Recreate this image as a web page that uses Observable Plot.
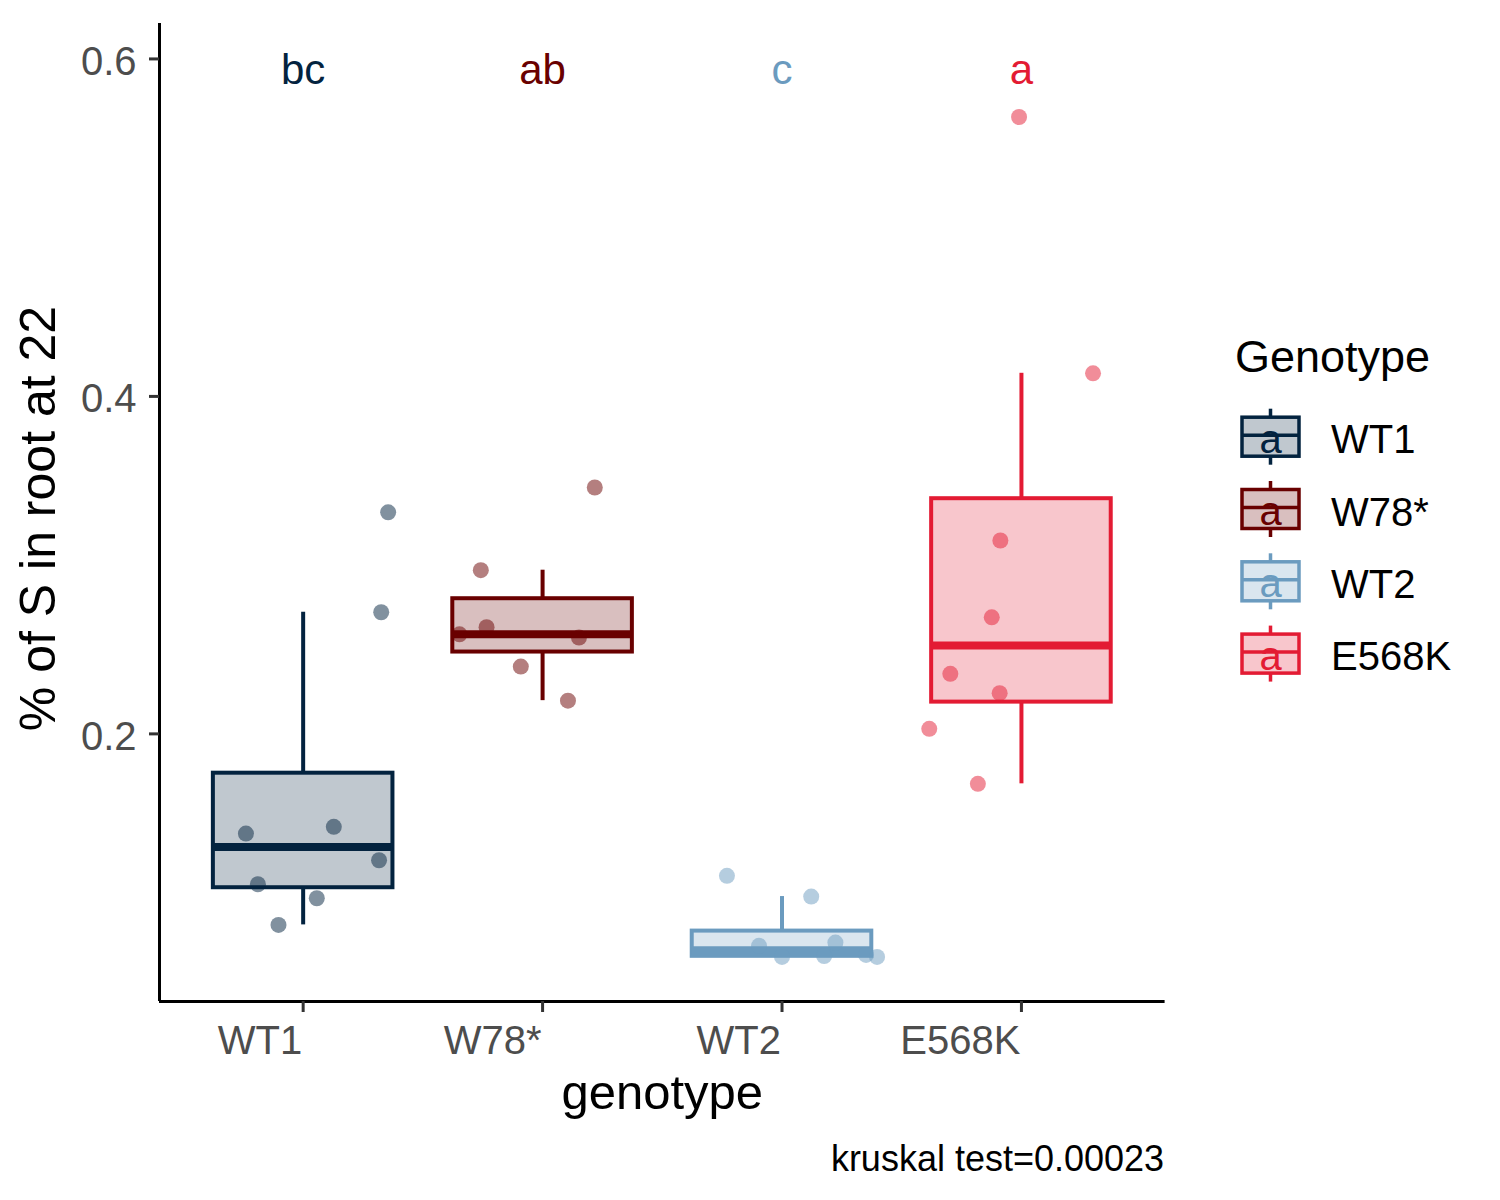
<!DOCTYPE html>
<html><head><meta charset="utf-8">
<script src="https://cdn.jsdelivr.net/npm/d3@7"></script>
<script src="https://cdn.jsdelivr.net/npm/@observablehq/plot@0.6"></script>
<style>body{margin:0;background:#fff} #chart{width:1500px;height:1200px}</style>
</head><body><div id="chart"></div>
<script>
// ---- data ----
const genotypes = ["WT1", "W78*", "WT2", "E568K"];
const lineColors = ["#03233F", "#690000", "#6B9BBF", "#E31B33"];
const sigLetters = ["bc", "ab", "c", "a"];
const labelY = 0.594;
const valuesWT1   = [0.3313, 0.2721, 0.1409, 0.1449, 0.1251, 0.1109, 0.1026, 0.0868];
const valuesW78   = [0.3460, 0.2970, 0.2632, 0.2590, 0.2571, 0.2399, 0.2197];
const valuesWT2   = [0.1159, 0.1036, 0.0744, 0.0763, 0.0678, 0.0683, 0.0690, 0.0678];
const valuesE568K = [0.4137, 0.3146, 0.2691, 0.2356, 0.2241, 0.2030, 0.1704, 0.5656];
// horizontal jitter (in category units)
const jitterWT1   = [0.355, 0.326, -0.239, 0.128, 0.317, -0.189, 0.057, -0.103];
const jitterW78   = [0.218, -0.258, -0.234, -0.347, 0.152, -0.091, 0.106];
const jitterWT2   = [-0.230, 0.122, -0.096, 0.223, 0.000, 0.176, 0.351, 0.397];
const jitterE568K = [0.299, -0.088, -0.124, -0.297, -0.091, -0.385, -0.182, -0.010];
const yTicks = [0.2, 0.4, 0.6];
const yDomain = [0.0414, 0.621];
const xTitle = "genotype";
const yTitle = "% of S in root at 22";
const legendTitle = "Genotype";
const caption = "kruskal test=0.00023";

// ---- derived ----
const groups = [valuesWT1, valuesW78, valuesWT2, valuesE568K];
const jitters = [jitterWT1, jitterW78, jitterWT2, jitterE568K];
const points = groups.flatMap((vals, g) => vals.map((v, j) => ({genotype: genotypes[g], pos: g + 1 + jitters[g][j], value: v})));
const stats = groups.map((vals, g) => {
  const s = d3.sort(vals);
  const q1 = d3.quantileSorted(s, 0.25), med = d3.quantileSorted(s, 0.5), q3 = d3.quantileSorted(s, 0.75);
  const iqr = q3 - q1;
  const hi = d3.max(s.filter(v => v <= q3 + 1.5 * iqr));
  const lo = d3.min(s.filter(v => v >= q1 - 1.5 * iqr));
  return {genotype: genotypes[g], pos: g + 1, q1, med, q3, hi, lo, letter: sigLetters[g]};
});
const halfW = 0.375;
const font = "Liberation Sans, Arial, Helvetica, sans-serif";

const svg = Plot.plot({
  width: 1500, height: 1200,
  marginLeft: 159, marginRight: 335.4, marginTop: 23, marginBottom: 199,
  style: {fontFamily: font, background: "#fff", overflow: "visible"},
  x: {type: "linear", domain: [0.4, 4.6]},
  y: {domain: yDomain},
  color: {domain: genotypes, range: lineColors},
  marks: [
    Plot.ruleX(stats, {x: "pos", y1: "q3", y2: "hi", stroke: "genotype", strokeWidth: 4}),
    Plot.ruleX(stats, {x: "pos", y1: "q1", y2: "lo", stroke: "genotype", strokeWidth: 4}),
    Plot.rect(stats, {x1: d => d.pos - halfW, x2: d => d.pos + halfW, y1: "q1", y2: "q3",
      fill: "genotype", fillOpacity: 0.25, stroke: "genotype", strokeWidth: 4}),
    Plot.ruleY(stats, {y: "med", x1: d => d.pos - halfW, x2: d => d.pos + halfW, stroke: "genotype", strokeWidth: 8}),
    Plot.dot(points, {x: "pos", y: "value", r: 8, fill: "genotype", fillOpacity: 0.5}),
    Plot.text(stats, {x: "pos", y: () => labelY, text: "letter", fill: "genotype", fontSize: 42, dy: 1}),
    // axes
    Plot.ruleX([0.4], {y1: yDomain[0], y2: yDomain[1], stroke: "#000", strokeWidth: 3}),
    Plot.ruleY([yDomain[0]], {x1: 0.4, x2: 4.6, stroke: "#000", strokeWidth: 3}),
    Plot.axisY({ticks: yTicks, tickSize: 10, tickFormat: () => "", color: "#333", strokeWidth: 3, label: null}),
    Plot.axisY({ticks: yTicks, tickSize: 0, tickPadding: 23, tickFormat: d3.format(".1f"),
      fontSize: 40, color: "#4D4D4D", label: null, dy: 3}),
    Plot.axisX({ticks: [1, 2, 3, 4], tickSize: 11, tickFormat: () => "", color: "#333", strokeWidth: 3, label: null}),
    Plot.axisX({ticks: [1, 2, 3, 4], tickSize: 0, tickPadding: 24, tickFormat: i => genotypes[i - 1],
      fontSize: 40, color: "#4D4D4D", label: null, textAnchor: "end", dx: -1}),
    Plot.text([xTitle], {frameAnchor: "bottom", dy: 107, lineAnchor: "bottom", fontSize: 49, fill: "#000"}),
    Plot.text([yTitle], {frameAnchor: "left", dx: -105, dy: 6, rotate: -90, lineAnchor: "bottom", textAnchor: "middle", fontSize: 50, fill: "#000"}),
    Plot.text([caption], {frameAnchor: "bottom-right", dy: 169, dx: -1, lineAnchor: "bottom", textAnchor: "end", fontSize: 36, fill: "#000"})
  ]
});
document.getElementById("chart").appendChild(svg);

// ---- legend ----
const lg = d3.select(svg).append("g").style("font-family", font);
lg.append("text").attr("x", 1235).attr("y", 372).attr("font-size", 45).attr("fill", "#000")
  .attr("text-anchor", "start").text(legendTitle);
genotypes.forEach((g, i) => {
  const cy = 436.7 + i * 72.3, c = lineColors[i];
  const k = lg.append("g");
  k.append("line").attr("x1", 1270.5).attr("x2", 1270.5).attr("y1", cy - 28).attr("y2", cy + 28).attr("stroke", c).attr("stroke-width", 3.5);
  k.append("rect").attr("x", 1242).attr("y", cy - 19.5).attr("width", 57).attr("height", 39)
    .attr("fill", "#fff").attr("stroke", "none");
  k.append("rect").attr("x", 1242).attr("y", cy - 19.5).attr("width", 57).attr("height", 39)
    .attr("fill", c).attr("fill-opacity", 0.25).attr("stroke", c).attr("stroke-width", 3.5);
  k.append("line").attr("x1", 1242).attr("x2", 1299).attr("y1", cy - 1.5).attr("y2", cy - 1.5).attr("stroke", c).attr("stroke-width", 3.5);
  k.append("text").attr("x", 1270.5).attr("y", cy + 16).attr("text-anchor", "middle").attr("font-size", 40)
    .style("font-family", font).attr("fill", c).text("a");
  lg.append("text").attr("x", 1331).attr("y", cy + 16.6).attr("font-size", 40).attr("fill", "#000")
    .attr("text-anchor", "start").text(g);
});
</script></body></html>
